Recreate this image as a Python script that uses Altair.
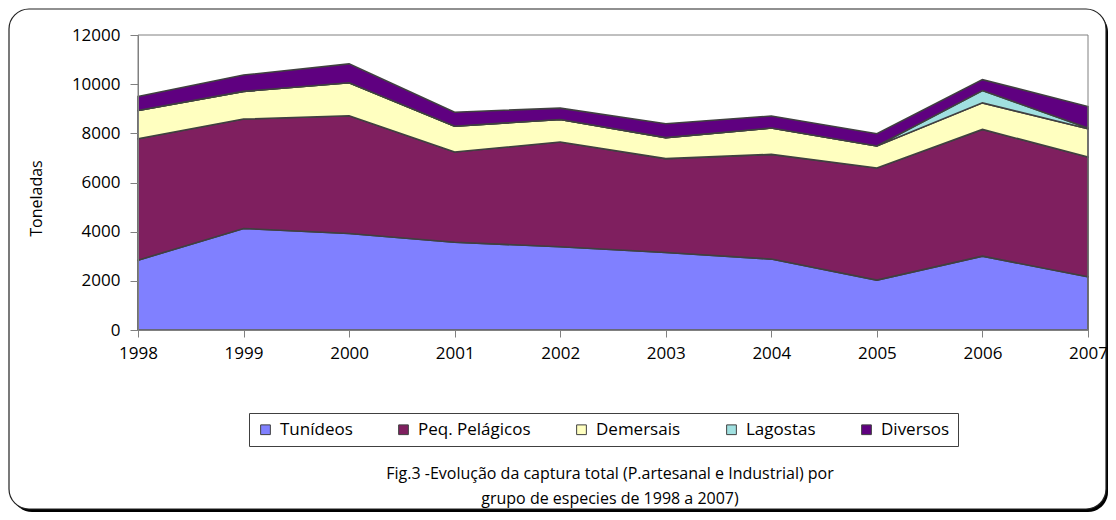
import altair as alt
import pandas as pd

FONT = "Open Sans"

years = [1998, 1999, 2000, 2001, 2002, 2003, 2004, 2005, 2006, 2007]
tunideos = [2840, 4130, 3925, 3570, 3385, 3155, 2885, 2030, 3005, 2165]
peq_pelagicos = [4940, 4450, 4790, 3670, 4260, 3815, 4260, 4560, 5155, 4870]
demersais = [1150, 1125, 1340, 1050, 920, 855, 1070, 895, 1080, 1150]
lagostas = [0, 0, 0, 0, 0, 0, 0, 0, 500, 30]
diversos = [570, 665, 770, 570, 460, 565, 490, 500, 445, 875]

series_names = ["Tunídeos", "Peq. Pelágicos", "Demersais", "Lagostas", "Diversos"]
series_colors = ["#8080FF", "#7F1F5F", "#FFFFC0", "#A0E0E0", "#5F0080"]
y_ticks = [0, 2000, 4000, 6000, 8000, 10000, 12000]
y_title = "Toneladas"
caption_lines = [
    "Fig.3 -Evolução da captura total (P.artesanal e Industrial) por",
    "grupo de especies de 1998 a 2007)",
]

series_values = [tunideos, peq_pelagicos, demersais, lagostas, diversos]
rows = []
for k, (name, vals) in enumerate(zip(series_names, series_values)):
    for yr, v in zip(years, vals):
        rows.append({"year": yr, "series": name, "value": v, "order": k})
df = pd.DataFrame(rows)

one = alt.Data(values=[{}])

shadow = alt.Chart(one).mark_rect(fill="black", cornerRadius=20).encode(
    x=alt.value(-126), x2=alt.value(970), y=alt.value(-23), y2=alt.value(477)
)
border = alt.Chart(one).mark_rect(
    fill="white", stroke="#222222", strokeWidth=1.2, cornerRadius=20
).encode(x=alt.value(-129), x2=alt.value(968), y=alt.value(-26), y2=alt.value(474))

areas = alt.Chart(df).mark_area(
    stroke="#404040", strokeWidth=1.6, opacity=1, interpolate="linear"
).encode(
    x=alt.X(
        "year:Q",
        scale=alt.Scale(domain=[1998, 2007], nice=False, zero=False),
        axis=alt.Axis(
            values=years, format="d", title=None, grid=False,
            domainColor="#808080", tickColor="#808080", tickSize=7,
            labelPadding=8, labelFontSize=17, labelFont=FONT,
            labelColor="black", labelFlush=False, zindex=1,
        ),
    ),
    y=alt.Y(
        "value:Q",
        stack="zero",
        scale=alt.Scale(domain=[0, 12000], nice=False),
        axis=alt.Axis(
            values=y_ticks, format="d", title=y_title, grid=False,
            domainColor="#808080", tickColor="#808080", tickSize=8,
            labelPadding=10, labelFontSize=17, labelFont=FONT,
            labelColor="black", zindex=1,
            titleFont=FONT, titleFontSize=16, titleFontWeight="normal",
            titleColor="black", titleAngle=270, titleX=-102, titleY=163,
            titleAlign="center", titleBaseline="middle",
        ),
    ),
    color=alt.Color(
        "series:N",
        sort=series_names,
        scale=alt.Scale(domain=series_names, range=series_colors),
        title=None,
        legend=alt.Legend(
            orient="none", legendX=111, legendY=378, direction="horizontal",
            columns=5, symbolType="square", symbolSize=95,
            symbolStrokeColor="#404040", symbolStrokeWidth=1,
            labelFont=FONT, labelFontSize=17, labelColor="black",
            labelOffset=6, columnPadding=42, padding=8,
            strokeColor="#404040", fillColor="white", zindex=1,
        ),
    ),
    order=alt.Order("order:Q"),
)

frame = alt.Chart(one).mark_rect(filled=False, stroke="#808080", strokeWidth=1).encode(
    x=alt.value(0), x2=alt.value(950), y=alt.value(0), y2=alt.value(295)
)

caption = alt.Chart(one).mark_text(
    font=FONT, fontSize=16, lineHeight=25, align="center", baseline="top", color="black"
).encode(x=alt.value(472), y=alt.value(431), text=alt.value(caption_lines))

chart = alt.layer(shadow, border, areas, frame, caption).properties(
    width=950,
    height=295,
    padding={"left": 130, "top": 27, "right": 20, "bottom": 182},
    autosize=alt.AutoSizeParams(type="none"),
    background="white",
).configure_view(strokeWidth=0)

chart.save("out.html", embed_options={"renderer": "svg", "actions": False})
